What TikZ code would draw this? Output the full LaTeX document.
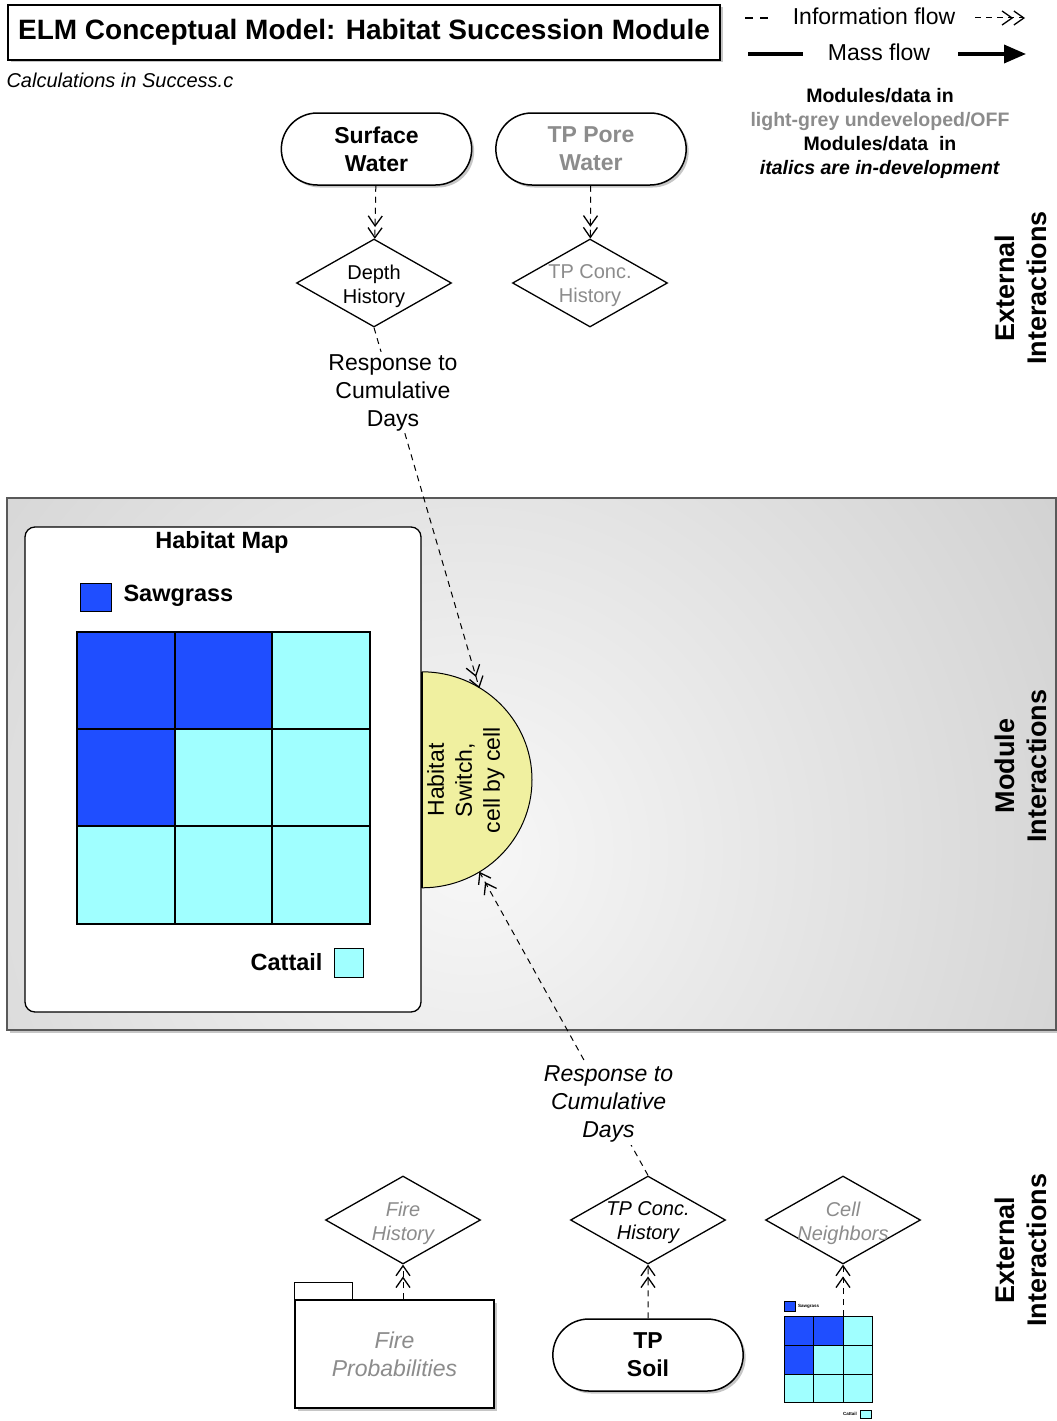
\documentclass[tikz,border=0pt]{standalone}
\usepackage{fontspec}
\setmainfont{Liberation Sans}
\usepackage{tikz}
\usetikzlibrary{arrows.meta,positioning,calc,shapes.geometric,shapes.misc,shadows}
\definecolor{sawgrass}{RGB}{31,78,255}
\definecolor{cattail}{RGB}{160,255,255}
\definecolor{switchyellow}{RGB}{240,240,160}
\definecolor{offgrey}{RGB}{140,140,140}
\definecolor{panelgrey}{RGB}{176,176,176}

\begin{document}
\begin{tikzpicture}[
  x=1pt, y=-1pt,
  shadowed/.style={drop shadow={shadow xshift=2.5pt, shadow yshift=-2.5pt, opacity=0.45}},
  titlebox/.style={draw, line width=1.5pt, fill=white, minimum width=712pt, minimum height=55pt, font=\fontsize{28}{33}\selectfont\bfseries, shadowed},
  store/.style={rounded rectangle, draw, line width=1.5pt, fill=white, minimum width=197pt, minimum height=72pt, align=center, font=\fontsize{23}{28}\selectfont\bfseries, shadowed},
  check/.style={diamond, draw, line width=1.3pt, fill=white, minimum width=155pt, minimum height=88pt, inner sep=0pt},
  checktext/.style={align=center, yshift=-3pt, font=\fontsize{20}{24}\selectfont},
  off/.style={text=offgrey},
  info/.style={line width=1pt, dash pattern=on 6pt off 5pt, -{Straight Barb[length=10pt,width=14pt,line width=1.3pt]Straight Barb[length=10pt,width=14pt,line width=1.3pt]}},
  mass/.style={line width=3.5pt, -{Triangle[length=22pt,width=18pt]}},
  side/.style={rotate=90, align=center, font=\fontsize{27}{32}\selectfont\bfseries},
  legendtext/.style={align=center, font=\fontsize{19.5}{24}\selectfont\bfseries},
  flowtext/.style={font=\fontsize{23}{28}\selectfont},
  cue/.style={fill=white, align=center, inner sep=2pt},
  maptext/.style={font=\fontsize{23.5}{28}\selectfont\bfseries}
]
\useasboundingbox (0,0) rectangle (1057,1421);

\node[titlebox] (title) at (364,32.5) {ELM Conceptual Model: Habitat Succession Module};
\node[anchor=west, font=\fontsize{20}{24}\selectfont\itshape] (calc) at (3,80) {Calculations in Success.c};

\node[flowtext] (infolab) at (874,16) {Information flow};
\node[flowtext] (masslab) at (879,52) {Mass flow};
\coordinate (infoa) at (745,18);
\coordinate (infob) at (772,18);
\coordinate (infoc) at (975,18);
\coordinate (infod) at (1025,18);
\coordinate (massa) at (748,54);
\coordinate (massb) at (803,54);
\coordinate (massc) at (958,54);
\coordinate (massd) at (1026,54);
\draw[line width=1.6pt, dash pattern=on 8pt off 7pt] (infoa) -- (infob);
\draw[info] (infoc) -- (infod);
\draw[line width=3.5pt] (massa) -- (massb);
\draw[mass] (massc) -- (massd);
\node[legendtext] (legend) at (880,133) {Modules/data in\\\textcolor{offgrey}{light-grey undeveloped/OFF}\\Modules/data\ \ in\\\textit{italics are in-development}};

\node[store] (surface) at (376.5,149) {Surface\\Water};
\node[store, off] (porewater) at (591,149) {TP Pore\\Water};
\node[check, label={[checktext]center:{Depth\\History}}] (depth) at (374,283) {};
\node[check, label={[checktext, off]center:{TP Conc.\\History}}] (tpconctop) at (590,283) {};
\draw[info] (surface) -- (depth);
\draw[info] (porewater) -- (tpconctop);

\draw[line width=1.5pt, draw=black!65, fill=white, shadowed] (7,498) rectangle (1056,1030);
\begin{scope}
  \clip (7,498) rectangle (1056,1030);
  \shade[inner color=white!97!black, outer color=panelgrey] (470,850) circle (1300);
\end{scope}
\draw[line width=1.5pt, draw=black!65] (7,498) rectangle (1056,1030);

\node[draw, line width=1.3pt, fill=white, rounded corners=10pt, minimum width=396pt, minimum height=485pt] (habmap) at (223,769.5) {};
\node[maptext] (maptitle) at (222,542) {Habitat Map};
\draw[fill=sawgrass, line width=1pt] (80,583) rectangle (111,611);
\node[maptext, anchor=west] (sawlab) at (120,596) {Sawgrass};
\fill[cattail] (77,632) rectangle (370,924);
\fill[sawgrass] (77,632) -- (272,632) -- (272,729) -- (175,729) -- (175,826) -- (77,826) -- cycle;
\draw[line width=1.2pt] (77,632) rectangle (370,924);
\draw[line width=1.2pt] (175,632) -- (175,924) (272,632) -- (272,924) (77,729) -- (370,729) (77,826) -- (370,826);
\node[maptext, anchor=east] (catlab) at (326,962) {Cattail};
\draw[fill=cattail, line width=1pt] (334,948) rectangle (363,977);

\node[circle, minimum size=216pt, inner sep=0pt] (switch) at (422,780) {};
\draw[fill=switchyellow, line width=1pt] (switch.north) arc[start angle=90, end angle=-90, x radius=110pt, y radius=108pt] -- cycle;
\draw[line width=2pt] (switch.north) -- (switch.south);
\node[rotate=90, align=center, font=\fontsize{23}{28}\selectfont] (switchlab) at (466,780) {Habitat\\Switch,\\cell by cell};

\draw[info] (depth.south) -- node[cue, pos=0.18, font=\fontsize{23}{28}\selectfont] {Response to\\Cumulative\\Days} (switch.58);

\node[side] (extop) at (1021,288) {External\\Interactions};
\node[side] (modint) at (1021,766) {Module\\Interactions};
\node[side] (extbot) at (1021,1250) {External\\Interactions};

\node[check, label={[checktext, off, font=\fontsize{20}{24}\selectfont\itshape]center:{Fire\\History}}] (firehist) at (403,1220) {};
\node[check, label={[checktext, font=\fontsize{20}{24}\selectfont\itshape]center:{TP Conc.\\History}}] (tpconc) at (648,1220) {};
\node[check, label={[checktext, off, font=\fontsize{20}{24}\selectfont\itshape]center:{Cell\\Neighbors}}] (cellnb) at (843,1220) {};

\draw[info] (tpconc.north) -- node[cue, pos=0.234, font=\fontsize{23}{28}\selectfont\itshape] {Response to\\Cumulative\\Days} (switch.-58);

\node[draw, line width=1.3pt, fill=white, minimum width=199pt, minimum height=108pt, align=center, text=offgrey, font=\fontsize{23}{28}\selectfont\itshape, shadowed] (fireprob) at (394.5,1354) {Fire\\Probabilities};
\draw[line width=1.3pt] (fireprob.north west) -- ++(0,-17) -- ++(58,0) -- ++(0,17);
\draw[info] (fireprob.north -| firehist.south) -- (firehist.south);

\node[store] (tpsoil) at (648,1355) {TP\\Soil};
\draw[info] (tpsoil) -- (tpconc);

\fill[cattail] (784,1316) rectangle (872,1402);
\fill[sawgrass] (784,1316) -- (843,1316) -- (843,1345) -- (813,1345) -- (813,1374) -- (784,1374) -- cycle;
\draw[line width=0.9pt] (784,1316) rectangle (872,1402);
\draw[line width=0.9pt] (813,1316) -- (813,1402) (843,1316) -- (843,1402) (784,1345) -- (872,1345) (784,1374) -- (872,1374);
\draw[fill=sawgrass, line width=0.6pt] (784,1301) rectangle (795,1311);
\node[anchor=west, inner sep=1pt, font=\fontsize{4.5}{5}\selectfont\bfseries] (minisaw) at (797,1306) {Sawgrass};
\node[anchor=east, inner sep=1pt, font=\fontsize{4.5}{5}\selectfont\bfseries] (minicat) at (858,1414) {Cattail};
\draw[fill=cattail, line width=0.6pt] (860,1410) rectangle (871,1418);
\coordinate (minigrid) at (843,1316);
\draw[info] (minigrid) -- (cellnb.south);
\end{tikzpicture}
\end{document}
